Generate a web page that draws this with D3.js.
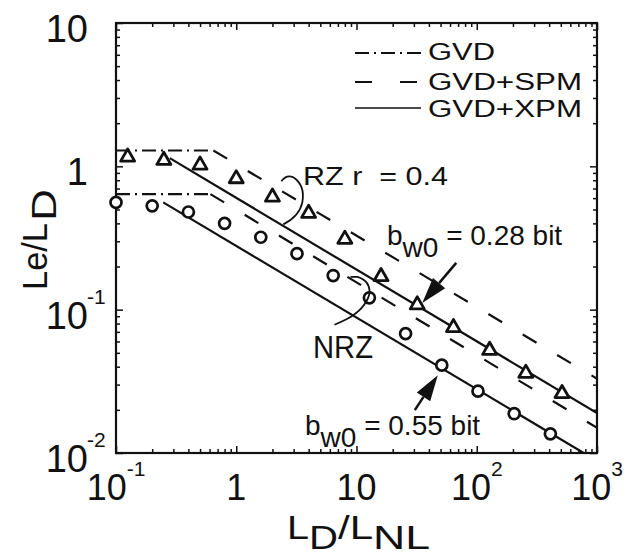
<!DOCTYPE html>
<html>
<head>
<meta charset="utf-8">
<script src="https://cdn.jsdelivr.net/npm/d3@7"></script>
<style>
body { margin: 0; background: #fff; }
text { font-family: "Liberation Sans", Arial, sans-serif; fill: #111; }
</style>
</head>
<body>
<div id="chart"></div>
<script>
// simulated points
const rz_x = [0.125, 0.25, 0.5, 1, 2, 4, 8, 16, 32, 64, 128, 256, 512];
const rz_y = [1.16, 1.10, 1.02, 0.82, 0.61, 0.47, 0.31, 0.17, 0.108, 0.075, 0.052, 0.036, 0.026];
const nrz_x = [0.1, 0.2, 0.4, 0.8, 1.6, 3.2, 6.4, 12.8, 25.6, 51.2, 102.4, 204.8, 409.6];
const nrz_y = [0.56, 0.53, 0.48, 0.40, 0.32, 0.246, 0.173, 0.121, 0.068, 0.041, 0.027, 0.0188, 0.0136];

// model curves, [LD/LNL, Le/LD]
const gvd_rz = [[0.1, 1.29], [0.64, 1.29]];
const gvd_nrz = [[0.1, 0.64], [0.6, 0.64]];
const spm_rz = [[0.645, 1.29], [1000, 0.033]];
const spm_nrz = [[0.61, 0.64], [1000, 0.015]];
const xpm_rz = [[0.28, 1.14], [1000, 0.019]];
const xpm_nrz = [[0.247, 0.56], [775, 0.01]];

const x_ticks = [0.1, 1, 10, 100, 1000];
const x_tick_labels = [["10", "-1"], ["1", ""], ["10", ""], ["10", "2"], ["10", "3"]];
const y_ticks = [0.01, 0.1, 1, 10];
const y_tick_labels = [["10", "-2"], ["10", "-1"], ["1", ""], ["10", ""]];
const legend_labels = ["GVD", "GVD+SPM", "GVD+XPM"];

const width = 626, height = 557;
const margins = { top: 23, right: 29, bottom: 104, left: 116 };

const x_scale = d3.scaleLog().domain([0.1, 1000]).range([margins.left, width - margins.right]);
const y_scale = d3.scaleLog().domain([0.01, 10]).range([height - margins.bottom, margins.top]);

const svg = d3.select("#chart").append("svg")
	.attr("width", width)
	.attr("height", height);

svg.append("defs").append("clipPath").attr("id", "plot_clip")
	.append("rect")
	.attr("x", margins.left).attr("y", margins.top)
	.attr("width", width - margins.left - margins.right)
	.attr("height", height - margins.top - margins.bottom);

// minor ticks 2..9 of every decade
const minor = (lo, hi) => {
	const out = [];
	for (let e = lo; e < hi; e++)
		for (let d = 2; d < 10; d++) out.push(d * Math.pow(10, e));
	return out;
};
const x_minor = minor(-1, 3);
const y_minor = minor(-2, 1);

const x_bottom = height - margins.bottom, x_top = margins.top;
const y_left = margins.left, y_right = width - margins.right;

const add_axis = (axis, tr) => {
	const g = svg.append("g").attr("transform", tr).call(axis);
	g.select(".domain").remove();
	g.selectAll("line").attr("stroke", "#111").attr("stroke-width", 1.5);
	return g;
};
add_axis(d3.axisBottom(x_scale).tickValues(x_minor).tickSize(-4).tickFormat(""), `translate(0,${x_bottom})`);
add_axis(d3.axisBottom(x_scale).tickValues(x_ticks).tickSize(-7).tickFormat(""), `translate(0,${x_bottom})`);
add_axis(d3.axisTop(x_scale).tickValues(x_minor).tickSize(-4).tickFormat(""), `translate(0,${x_top})`);
add_axis(d3.axisTop(x_scale).tickValues(x_ticks).tickSize(-7).tickFormat(""), `translate(0,${x_top})`);
add_axis(d3.axisLeft(y_scale).tickValues(y_minor).tickSize(-4).tickFormat(""), `translate(${y_left},0)`);
add_axis(d3.axisLeft(y_scale).tickValues(y_ticks).tickSize(-7).tickFormat(""), `translate(${y_left},0)`);
add_axis(d3.axisRight(y_scale).tickValues(y_minor).tickSize(-4).tickFormat(""), `translate(${y_right},0)`);
add_axis(d3.axisRight(y_scale).tickValues(y_ticks).tickSize(-7).tickFormat(""), `translate(${y_right},0)`);

// frame
svg.append("rect")
	.attr("x", y_left).attr("y", x_top)
	.attr("width", y_right - y_left).attr("height", x_bottom - x_top)
	.attr("fill", "none").attr("stroke", "#111").attr("stroke-width", 2.2);

// tick labels
svg.selectAll(".xlab").data(x_ticks).enter().append("text")
	.attr("class", "xlab")
	.attr("x", d => x_scale(d))
	.attr("y", 500)
	.attr("text-anchor", "middle")
	.style("font-size", "36px")
	.each(function(d, i) {
		const t = d3.select(this);
		t.append("tspan").text(x_tick_labels[i][0]);
		if (x_tick_labels[i][1])
			t.append("tspan").attr("dy", -24).style("font-size", "21px").text(x_tick_labels[i][1]);
	});

svg.selectAll(".ylab").data(y_ticks).enter().append("text")
	.attr("class", "ylab")
	.attr("x", 88)
	.attr("y", d => y_scale(d) + 19)
	.attr("text-anchor", "end")
	.style("font-size", "38px")
	.text((d, i) => y_tick_labels[i][0]);

svg.selectAll(".ysup").data(y_ticks.filter((d, i) => y_tick_labels[i][1])).enter().append("text")
	.attr("class", "ysup")
	.attr("x", 87)
	.attr("y", d => y_scale(d) - 6)
	.style("font-size", "21px")
	.text(d => y_tick_labels[y_ticks.indexOf(d)][1]);

// axis titles
const ylab = svg.append("g").attr("transform", "translate(47,290) rotate(-90)");
ylab.append("text").attr("x", 0).attr("y", 0)
	.attr("textLength", 67).attr("lengthAdjust", "spacingAndGlyphs")
	.style("font-size", "35px").text("Le/L");
ylab.append("text").attr("x", 69).attr("y", 9)
	.attr("textLength", 32).attr("lengthAdjust", "spacingAndGlyphs")
	.style("font-size", "35px").text("D");

svg.append("text").attr("x", 287).attr("y", 539)
	.attr("textLength", 22).attr("lengthAdjust", "spacingAndGlyphs")
	.style("font-size", "34px").text("L");
svg.append("text").attr("x", 309).attr("y", 549)
	.attr("textLength", 29).attr("lengthAdjust", "spacingAndGlyphs")
	.style("font-size", "34px").text("D");
svg.append("text").attr("x", 338).attr("y", 539)
	.attr("textLength", 35).attr("lengthAdjust", "spacingAndGlyphs")
	.style("font-size", "34px").text("/L");
svg.append("text").attr("x", 373).attr("y", 549)
	.attr("textLength", 57).attr("lengthAdjust", "spacingAndGlyphs")
	.style("font-size", "34px").text("NL");

// curves
const line = d3.line().x(d => x_scale(d[0])).y(d => y_scale(d[1]));
const plot = svg.append("g").attr("clip-path", "url(#plot_clip)");

const dash_dot = "14,5,2,5";
const dashed = "16,24";
[gvd_rz, gvd_nrz].forEach(c => plot.append("path").datum(c)
	.attr("d", line).attr("fill", "none").attr("stroke", "#111")
	.attr("stroke-width", 2.2).attr("stroke-dasharray", dash_dot));
[spm_rz, spm_nrz].forEach(c => plot.append("path").datum(c)
	.attr("d", line).attr("fill", "none").attr("stroke", "#111")
	.attr("stroke-width", 2.2).attr("stroke-dasharray", dashed));
[xpm_rz, xpm_nrz].forEach(c => plot.append("path").datum(c)
	.attr("d", line).attr("fill", "none").attr("stroke", "#111")
	.attr("stroke-width", 2.2));

// markers
const tri = d3.symbol().type(d3.symbolTriangle).size(85);
plot.selectAll(".tri").data(rz_x).enter().append("path")
	.attr("class", "tri")
	.attr("d", tri)
	.attr("transform", (d, i) => `translate(${x_scale(d)},${y_scale(rz_y[i])})`)
	.attr("fill", "#fff").attr("stroke", "#111").attr("stroke-width", 2.8)
	.attr("stroke-linejoin", "round");

svg.selectAll(".circ").data(nrz_x).enter().append("circle")
	.attr("class", "circ")
	.attr("cx", d => x_scale(d))
	.attr("cy", (d, i) => y_scale(nrz_y[i]))
	.attr("r", 5.5)
	.attr("fill", "#fff").attr("stroke", "#111").attr("stroke-width", 2.7);

// legend
const legend = svg.append("g").attr("class", "legend");
const leg_y = [53, 82, 108];
const leg_text_y = [60, 90, 117];
const leg_len = [67, 154, 154];
const leg_dash = [dash_dot, "17,28", null];
legend_labels.forEach((lab, i) => {
	legend.append("line")
		.attr("x1", 355).attr("x2", 421)
		.attr("y1", leg_y[i]).attr("y2", leg_y[i])
		.attr("stroke", "#111").attr("stroke-width", i == 2 ? 1.5 : 2.2)
		.attr("stroke-dasharray", leg_dash[i]);
	legend.append("text")
		.attr("x", 428).attr("y", leg_text_y[i])
		.attr("textLength", leg_len[i]).attr("lengthAdjust", "spacingAndGlyphs")
		.style("font-size", "23px")
		.text(lab);
});

// annotations
svg.append("text").attr("x", 303).attr("y", 185)
	.attr("textLength", 145).attr("lengthAdjust", "spacingAndGlyphs")
	.style("font-size", "25px").style("white-space", "pre")
	.text("RZ r  = 0.4");
svg.append("text").attr("x", 313).attr("y", 358)
	.attr("textLength", 60).attr("lengthAdjust", "spacingAndGlyphs")
	.style("font-size", "31px").text("NRZ");

const bw = (x0, y0, val) => {
	const t = svg.append("text").attr("x", x0).attr("y", y0).style("font-size", "28px");
	t.append("tspan").text("b");
	t.append("tspan").attr("dy", 12).text("w0");
	t.append("tspan").attr("dy", -12).style("white-space", "pre").text(" = " + val + " bit");
};
bw(387, 245, "0.28");
bw(305, 435, "0.55");

// braces, anchored to the plot scales
const brace = (ax, ay, d) => svg.append("path")
	.attr("transform", `translate(${x_scale(ax)},${y_scale(ay)})`)
	.attr("d", d).attr("fill", "none").attr("stroke", "#111").attr("stroke-width", 1.8);
brace(2.66, 0.838, "M-6,4 Q-1,-3 6,0 Q18,8 15,25 Q12,39 -4,47");
brace(6.95, 0.081, "M-3,2 Q4,-1 10,-4 Q28,-14 32,-29 Q33,-42 20,-46 L13,-46");

// arrows pointing at a marker
const arrow = (tip, tail) => {
	const dx = tip[0] - tail[0], dy = tip[1] - tail[1];
	const len = Math.hypot(dx, dy), ux = dx / len, uy = dy / len;
	const hl = 26, hw = 8;
	const bx = tip[0] - ux * hl, by = tip[1] - uy * hl;
	svg.append("line")
		.attr("x1", tail[0]).attr("y1", tail[1]).attr("x2", bx).attr("y2", by)
		.attr("stroke", "#111").attr("stroke-width", 2.5);
	svg.append("path")
		.attr("d", `M${tip[0]},${tip[1]}L${bx - uy * hw},${by + ux * hw}L${bx + uy * hw},${by - ux * hw}Z`)
		.attr("fill", "#111");
};
const t1 = [x_scale(rz_x[8]) + 5, y_scale(rz_y[8]) - 2];
arrow(t1, [t1[0] + 34, t1[1] - 40]);
const t2 = [x_scale(nrz_x[9]) - 4, y_scale(nrz_y[9]) + 10];
arrow(t2, [t2[0] - 23, t2[1] + 35]);
</script>
</body>
</html>
